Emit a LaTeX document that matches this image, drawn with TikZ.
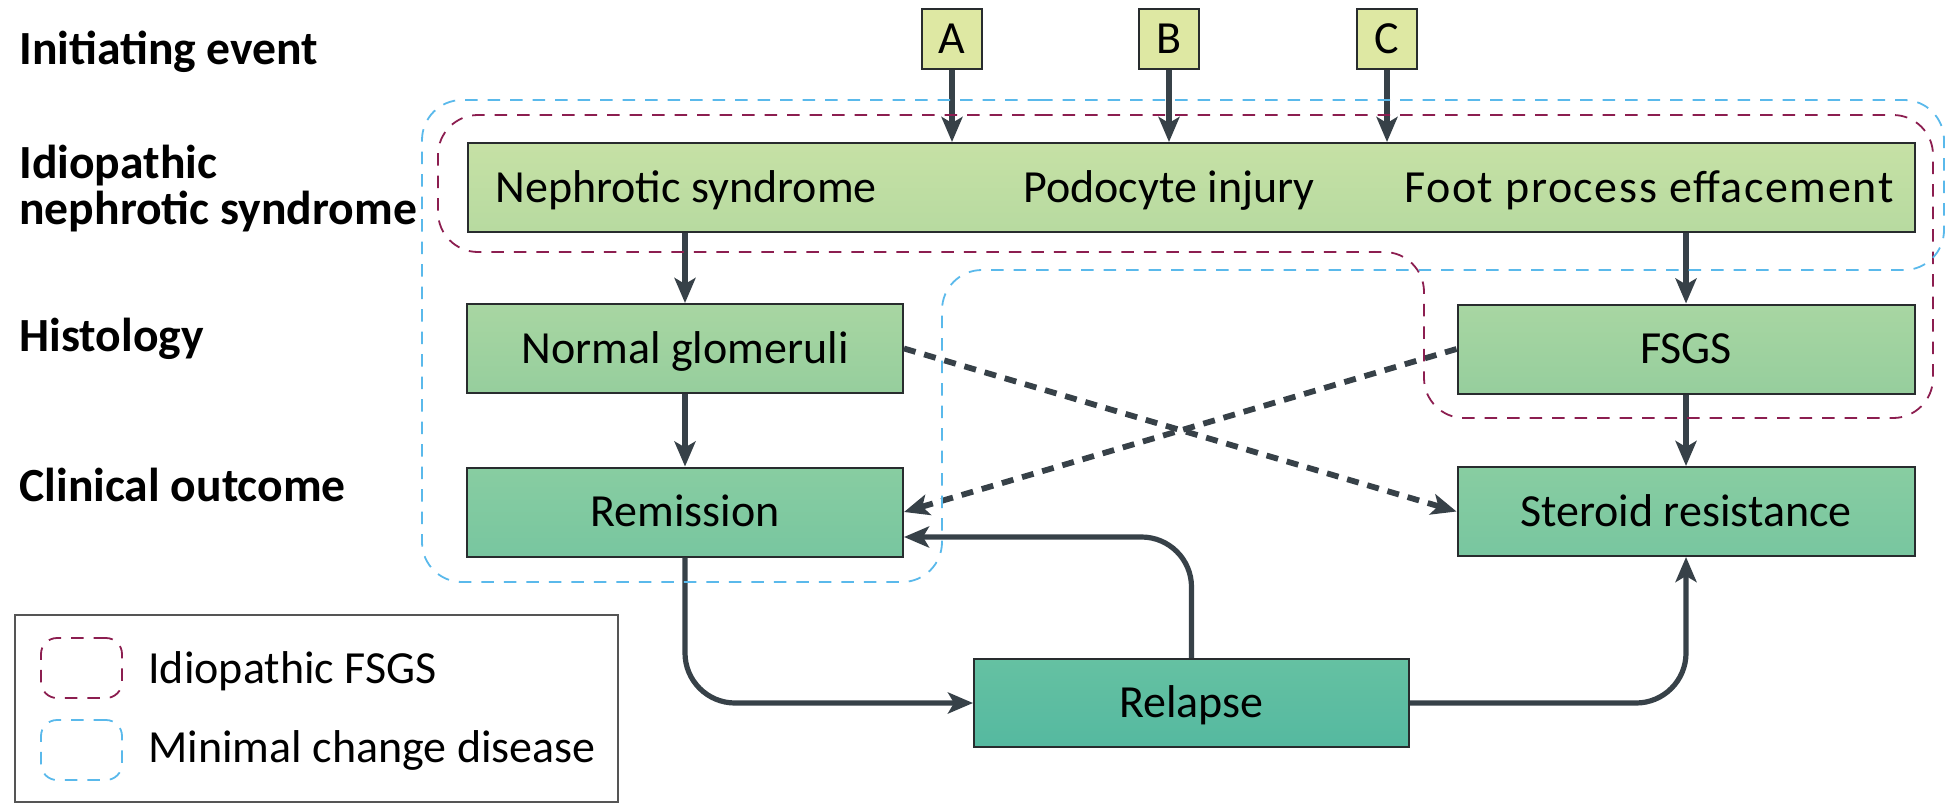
\documentclass[tikz,border=0pt]{standalone}
\usepackage{fontspec}
\setmainfont{Carlito}
\usetikzlibrary{positioning, arrows.meta}
\definecolor{arrowgray}{RGB}{55,65,72}
\definecolor{boxline}{RGB}{40,44,46}
\definecolor{keygray}{RGB}{85,85,85}
\definecolor{fsgsred}{RGB}{140,30,80}
\definecolor{mcdblue}{RGB}{90,185,235}
\definecolor{eventfill}{RGB}{222,232,163}
\definecolor{insTop}{RGB}{198,225,165}
\definecolor{insBot}{RGB}{183,218,160}
\definecolor{histTop}{RGB}{168,214,162}
\definecolor{histBot}{RGB}{150,206,157}
\definecolor{outTop}{RGB}{136,205,161}
\definecolor{outBot}{RGB}{120,198,160}
\definecolor{relTop}{RGB}{101,193,162}
\definecolor{relBot}{RGB}{85,185,160}
\newcommand{\lblfont}{\fontsize{23.8pt}{23pt}\selectfont\bfseries}
\newcommand{\txtfont}{\fontsize{23pt}{27pt}\selectfont}
\tikzset{
  stage/.style={anchor=base west, inner sep=0pt, font=\lblfont},
  word/.style={inner sep=0pt, text height=14.5pt, text depth=0pt, font=\txtfont},
  panel/.style={word, draw=boxline, line width=1pt},
  event/.style={panel, fill=eventfill, minimum size=30pt},
  onset/.style={panel, top color=insTop, bottom color=insBot, minimum width=723.5pt, minimum height=44.5pt},
  histo/.style={panel, top color=histTop, bottom color=histBot, minimum height=44.5pt},
  outcome/.style={panel, top color=outTop, bottom color=outBot, minimum height=44.5pt},
  flow/.style={draw=arrowgray, line width=2.6pt, -{Stealth[length=12.5pt, width=10.5pt, inset=3pt]}},
  maybe/.style={flow, line width=2.9pt, dash pattern=on 6pt off 4.5pt},
  outline/.style={line width=0.9pt, dash pattern=on 6.25pt off 5pt},
}

\begin{document}
\begin{tikzpicture}[x=0.5pt, y=-0.5pt]
\useasboundingbox (0,0) rectangle (1947,803);

\node[stage] (lInit) at (19,64) {Initiating event};
\node[stage, align=left] (lIdio) at (19,224) {Idiopathic\\nephrotic syndrome};
\node[stage] (lHist) at (19,351) {Histology};
\node[stage] (lClin) at (19,501) {Clinical outcome};

\node[event] (evA) at (952,38.5) {A};
\node[event] (evB) at (1169,38.5) {B};
\node[event] (evC) at (1387,38.5) {C};

\node[onset] (ins) at (1191.5,187.5) {};
\node[word, right=14pt of ins.west, anchor=west] (nephr) {Nephrotic syndrome};
\node[word] (podo) at (evB |- ins) {Podocyte injury};
\node[word, left=11pt of ins.east, anchor=east] (foot) {\addfontfeature{LetterSpace=3.5}Foot process effacement};

\node[histo, minimum width=218pt] (norm) at (685,348.5) {Normal glomeruli};
\node[histo, minimum width=228.5pt] (fsgs) at (1686,349) {FSGS};
\node[outcome, minimum width=218pt] (remis) at (685,512) {Remission};
\node[outcome, minimum width=228.5pt] (steroid) at (1686,511.5) {Steroid resistance};
\node[panel, top color=relTop, bottom color=relBot, minimum width=217.5pt, minimum height=44pt] (relapse) at (1191.5,703) {Relapse};

\draw[flow] (evA) -- (evA |- ins.north);
\draw[flow] (evB) -- (evB |- ins.north);
\draw[flow] (evC) -- (evC |- ins.north);
\draw[flow] (norm |- ins.south) -- (norm);
\draw[flow] (fsgs |- ins.south) -- (fsgs);
\draw[flow] (norm) -- (remis);
\draw[flow] (fsgs) -- (steroid);
\draw[maybe] (norm.east) -- (steroid.west);
\draw[maybe] (fsgs.west) -- (remis.east);
\draw[flow, rounded corners=25pt] (remis.south) |- (relapse.west);
\draw[flow, rounded corners=25pt] (relapse.north) |- ([yshift=-12.5pt]remis.east);
\draw[flow, rounded corners=25pt] (relapse.east) -| (steroid.south);

\draw[outline, draw=fsgsred, rounded corners=20pt] (1000,115) -- (1933,115) -- (1933,418) -- (1424,418) -- (1424,252) -- (438,252) -- (438,115) -- cycle;
\draw[outline, draw=mcdblue, rounded corners=20pt] (1000,100) -- (1944,100) -- (1944,270) -- (942,270) -- (942,582) -- (422,582) -- (422,100) -- cycle;

\draw[draw=keygray, line width=1pt] (15,615) rectangle (618,802);
\node[outline, draw=fsgsred, rounded corners=8pt, minimum width=40.5pt, minimum height=30pt] (keyF) at (81.5,668) {};
\node[outline, draw=mcdblue, rounded corners=8pt, minimum width=40.5pt, minimum height=30pt] (keyM) at (81.5,750) {};
\node[word, anchor=base west, text height=, text depth=] (keyFtext) at (148,683) {Idiopathic FSGS};
\node[word, anchor=base west, text height=, text depth=] (keyMtext) at (148,762) {Minimal change disease};
\end{tikzpicture}
\end{document}
